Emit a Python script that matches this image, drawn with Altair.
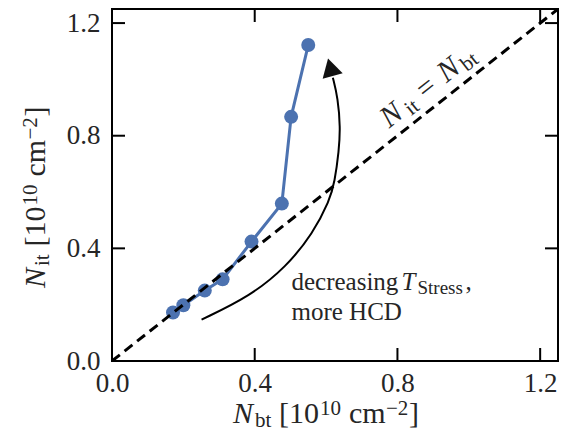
import altair as alt
import pandas as pd

# ---------------- data ----------------
n_bt = [0.171, 0.200, 0.260, 0.310, 0.391, 0.476, 0.502, 0.550]
n_it = [0.172, 0.198, 0.250, 0.290, 0.424, 0.559, 0.867, 1.122]

diag = [0.0, 1.25]

arrow_x = [0.251, 0.386, 0.489, 0.563, 0.610, 0.624, 0.636, 0.640, 0.633, 0.619]
arrow_y = [0.147, 0.229, 0.335, 0.453, 0.570, 0.635, 0.747, 0.829, 0.935, 1.006]
head_x = [0.612]
head_y = [1.043]

tick_values = [0.0, 0.4, 0.8, 1.2]

x_title_texts = ["N", "bt", "[10", "10", "cm", "\u22122", "]"]
y_title_texts = ["N", "it", "[10", "10", "cm", "\u22122", "]"]
eq_texts = ["N", "it", "=", "N", "bt"]
ann1_texts = ["decreasing", "T", "Stress", ","]
ann2_texts = ["more HCD"]
eq_anchor = (0.777, 0.826)
ann1_anchor = (0.503, 0.2527)
ann2_anchor = (0.503, 0.1445)

# ---------------- layout / style ----------------
W, H = 446, 352
FONT = "Liberation Serif"
TXT = "#262626"
BLUE = "#4c72b0"
TICK = 13

# (dx, dy, size, style) per piece
title_layout_x = [(0, 0, 30, "italic"), (22, 4, 21, "normal"), (46, 0, 30, "normal"),
                  (87, -8, 21, "normal"), (116, 0, 30, "normal"), (153, -8, 21, "normal"),
                  (176, 0, 30, "normal")]
title_layout_y = [(0, 0, 30, "italic"), (22, 4, 21, "normal"), (41.5, 0, 30, "normal"),
                  (82.5, -8, 21, "normal"), (111.5, 0, 30, "normal"), (148.5, -8, 21, "normal"),
                  (171.5, 0, 30, "normal")]
eq_layout = [(0, 0, 30, "italic"), (25, 4, 21, "normal"), (46, 0, 30, "normal"),
             (73, 0, 30, "italic"), (96, 4, 21, "normal")]
ann1_layout = [(0, 0, 25, "normal"), (110, 0, 25, "italic"), (126, 4, 19, "normal"), (174, 0, 25, "normal")]
ann2_layout = [(0, 0, 25, "normal")]

xs = alt.Scale(domain=[0, 1.25], nice=False, zero=False)
ys = alt.Scale(domain=[0, 1.25], nice=False, zero=False)
x_axis = alt.Axis(values=tick_values, format=".1f", title=None, labelFlush=False)
y_axis = alt.Axis(values=tick_values, format=".1f", title=None, labelFlush=False)
X = alt.X("x:Q", scale=xs, axis=x_axis)
Y = alt.Y("y:Q", scale=ys, axis=y_axis)

layers = []

# blue series
df_pts = pd.DataFrame({"x": n_bt, "y": n_it})
layers.append(alt.Chart(df_pts).mark_line(color=BLUE, strokeWidth=3).encode(x=X, y=Y))
layers.append(alt.Chart(df_pts).mark_circle(color=BLUE, size=196, opacity=1).encode(x=X, y=Y))

# dashed identity line
df_diag = pd.DataFrame({"x": diag, "y": diag})
layers.append(alt.Chart(df_diag).mark_line(color="black", strokeWidth=3, strokeDash=[10, 6], clip=True)
              .encode(x=X, y=Y))

# curved arrow
df_arr = pd.DataFrame({"x": arrow_x, "y": arrow_y, "o": list(range(len(arrow_x)))})
layers.append(alt.Chart(df_arr).mark_line(color="black", strokeWidth=2, interpolate="basis")
              .encode(x=X, y=Y, order="o:Q"))
df_head = pd.DataFrame({"x": head_x, "y": head_y})
layers.append(alt.Chart(df_head).mark_point(shape="triangle-up", filled=True, size=430, angle=345,
                                            color="#111111", opacity=1).encode(x=X, y=Y))

# inward ticks on all four sides
df_t = pd.DataFrame({"x": tick_values, "y": tick_values})
rule = dict(color="black", strokeWidth=2)
layers.append(alt.Chart(df_t).mark_rule(**rule).encode(x=X, y=alt.value(H), y2=alt.value(H - TICK)))
layers.append(alt.Chart(df_t).mark_rule(**rule).encode(x=X, y=alt.value(0), y2=alt.value(TICK)))
layers.append(alt.Chart(df_t).mark_rule(**rule).encode(y=Y, x=alt.value(0), x2=alt.value(TICK)))
layers.append(alt.Chart(df_t).mark_rule(**rule).encode(y=Y, x=alt.value(W), x2=alt.value(W - TICK)))


def pieces(texts, layout, angle, enc, df):
    out = []
    for t, (dx, dy, size, style) in zip(texts, layout):
        out.append(alt.Chart(df).mark_text(text=t, dx=dx, dy=dy, fontSize=size, fontStyle=style,
                                           font=FONT, align="left", baseline="alphabetic",
                                           angle=angle, color=TXT).encode(**enc))
    return out


one = pd.DataFrame({"a": [0]})
# axis titles
layers += pieces(x_title_texts, title_layout_x, 0, dict(x=alt.value(121), y=alt.value(413.5)), one)
layers += pieces(y_title_texts, title_layout_y, 270, dict(x=alt.value(-67), y=alt.value(279)), one)

# annotations
layers += pieces(eq_texts, eq_layout, 321.7, dict(x=X, y=Y),
                 pd.DataFrame({"x": [eq_anchor[0]], "y": [eq_anchor[1]]}))
layers += pieces(ann1_texts, ann1_layout, 0, dict(x=X, y=Y),
                 pd.DataFrame({"x": [ann1_anchor[0]], "y": [ann1_anchor[1]]}))
layers += pieces(ann2_texts, ann2_layout, 0, dict(x=X, y=Y),
                 pd.DataFrame({"x": [ann2_anchor[0]], "y": [ann2_anchor[1]]}))

chart = (
    alt.layer(*layers)
    .properties(width=W, height=H,
                autosize=alt.AutoSizeParams(type="none"),
                padding={"left": 104, "top": 1, "right": 3, "bottom": 70})
    .configure_view(stroke="black", strokeWidth=2)
    .configure_axis(labelFont=FONT, labelFontSize=27, labelColor=TXT, ticks=False, tickSize=0,
                    domain=False, grid=False, labelPadding=10)
    .configure_axisX(labelPadding=9)
    .configure_axisY(labelPadding=12)
)

chart.save("out.html", embed_options={"renderer": "svg", "actions": False})
